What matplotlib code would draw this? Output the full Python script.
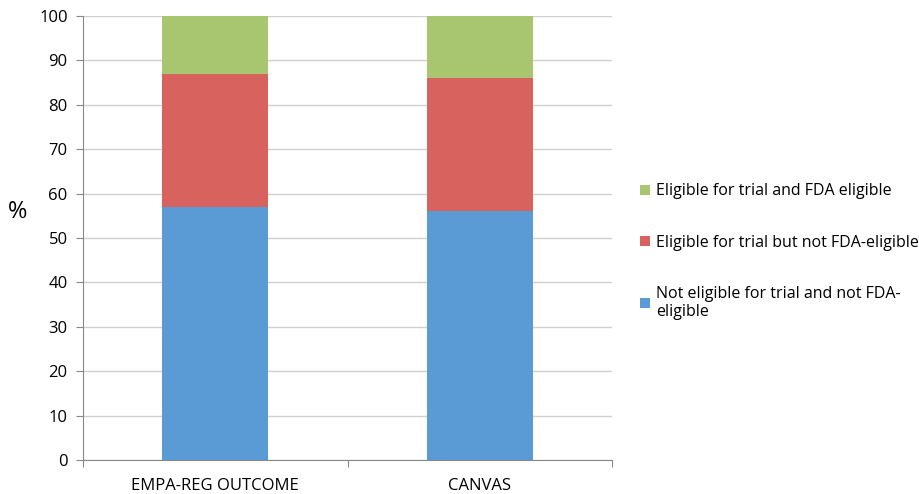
import numpy as np
import matplotlib.pyplot as plt

plt.rcParams['font.family'] = ['Open Sans', 'DejaVu Sans']

trials = ["EMPA-REG OUTCOME", "CANVAS"]
not_eligible = [57, 56]        # not eligible for trial and not FDA-eligible
trial_not_fda = [30, 30]       # eligible for trial but not FDA-eligible
trial_and_fda = [13, 14]       # eligible for trial and FDA eligible

labels = ["Not eligible for trial and not FDA-\neligible",
          "Eligible for trial but not FDA-eligible",
          "Eligible for trial and FDA eligible"]
colors = ["#5B9BD5", "#D8625E", "#A8C56F"]

fig = plt.figure(figsize=(9.19, 4.94), dpi=100)
ax = fig.add_axes([83/919, 34/494, 529/919, 444/494])

x = np.arange(len(trials))
b1 = ax.bar(x, not_eligible, width=0.4, color=colors[0], label=labels[0], zorder=3)
bottom = np.array(not_eligible)
b2 = ax.bar(x, trial_not_fda, width=0.4, bottom=bottom, color=colors[1], label=labels[1], zorder=3)
bottom = bottom + np.array(trial_not_fda)
b3 = ax.bar(x, trial_and_fda, width=0.4, bottom=bottom, color=colors[2], label=labels[2], zorder=3)

ax.set_xlim(-0.5, 1.5)
ax.set_ylim(0, 100)
ax.set_yticks(range(0, 101, 10))
ax.set_xticks([-0.5, 0.5, 1.5], minor=False)
ax.set_xticklabels(["", "", ""])
ax.set_xticks(x, minor=True)
ax.set_xticklabels(trials, minor=True)
ax.tick_params(axis='x', which='minor', length=0, pad=13, labelsize=12)
ax.tick_params(axis='x', which='major', length=5, color="#888888")
ax.tick_params(axis='y', length=5, color="#888888", labelsize=12, pad=6)
ax.grid(axis='y', color="#D0D0D0", linewidth=1, zorder=0)
for s in ["top", "right"]:
    ax.spines[s].set_visible(False)
ax.spines["left"].set_color("#888888")
ax.spines["bottom"].set_color("#888888")

fig.text(18/919, 1 - 212/494, "%", fontsize=17, ha='center', va='center')

ax.legend([b3, b2, b1], [labels[2], labels[1], labels[0]],
          loc='upper left', bbox_to_anchor=(626/919, 1 - 169/494),
          bbox_transform=fig.transFigure, frameon=False, fontsize=11.5,
          handlelength=0.6, handleheight=0.6, handletextpad=0.4,
          labelspacing=2.2)

fig.savefig("out.png", dpi=100)
